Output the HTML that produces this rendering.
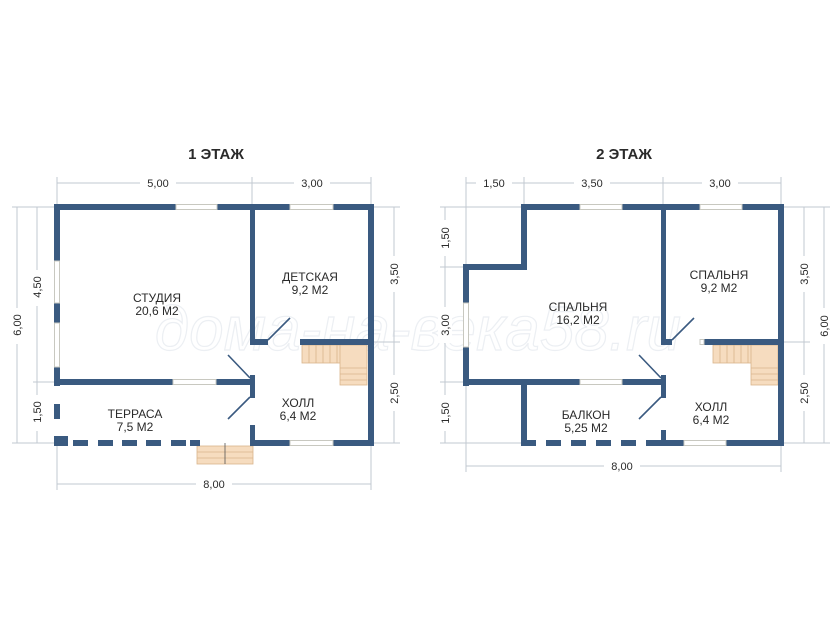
<!DOCTYPE html>
<html><head><meta charset="utf-8"><style>
html,body{margin:0;padding:0;background:#fff;}
svg{display:block}
text{font-family:"Liberation Sans","DejaVu Sans",sans-serif;fill:#2a2a2a}
.d{stroke:#c2c8d0;stroke-width:1;fill:none}
.w{fill:#3a5a80}
.win{fill:#fff;stroke:#c8c8c0;stroke-width:1}
.lbl{font-size:12px;text-anchor:middle}
.dim{font-size:11px;text-anchor:middle}
.st{fill:#f6dcbf;stroke:#d9b58c;stroke-width:0.8}
</style></head><body>
<svg width="840" height="630" viewBox="0 0 840 630" xmlns="http://www.w3.org/2000/svg">
<rect width="840" height="630" fill="#fff"/>
<text x="418" y="350" font-size="62" font-style="italic" text-anchor="middle" stroke="#eceff3" stroke-width="1.2" style="fill:none">дома-на-века58.ru</text>

<!-- ===== PLAN 1 ===== -->
<text x="216" y="159" font-size="15" font-weight="bold" text-anchor="middle">1 ЭТАЖ</text>
<g class="d">
<line x1="57" y1="183" x2="371" y2="183"/>
<line x1="57" y1="177" x2="57" y2="204"/><line x1="252" y1="177" x2="252" y2="204"/><line x1="371" y1="177" x2="371" y2="204"/>
<line x1="57" y1="484" x2="371" y2="484"/>
<line x1="57" y1="446" x2="57" y2="490"/><line x1="371" y1="446" x2="371" y2="490"/>
<line x1="17" y1="207" x2="17" y2="443"/><line x1="37" y1="207" x2="37" y2="443"/>
<line x1="12" y1="207" x2="54" y2="207"/><line x1="12" y1="443" x2="54" y2="443"/><line x1="33" y1="382" x2="54" y2="382"/>
<line x1="394" y1="207" x2="394" y2="443"/>
<line x1="374" y1="207" x2="400" y2="207"/><line x1="374" y1="342" x2="400" y2="342"/><line x1="374" y1="443" x2="400" y2="443"/>
</g>
<g class="dim">
<rect x="140" y="176" width="36" height="14" fill="#fff"/><text x="158" y="187">5,00</text>
<rect x="294" y="176" width="36" height="14" fill="#fff"/><text x="312" y="187">3,00</text>
<rect x="196" y="477" width="36" height="14" fill="#fff"/><text x="214" y="488">8,00</text>
<rect x="10" y="308" width="14" height="36" fill="#fff"/><text transform="translate(21,325) rotate(-90)">6,00</text>
<rect x="30" y="270" width="14" height="36" fill="#fff"/><text transform="translate(41,287) rotate(-90)">4,50</text>
<rect x="30" y="395" width="14" height="36" fill="#fff"/><text transform="translate(41,412) rotate(-90)">1,50</text>
<rect x="387" y="256" width="14" height="36" fill="#fff"/><text transform="translate(398,274) rotate(-90)">3,50</text>
<rect x="387" y="375" width="14" height="36" fill="#fff"/><text transform="translate(398,393) rotate(-90)">2,50</text>
</g>
<g>
<rect class="st" x="302" y="345" width="65" height="18"/>
<rect class="st" x="340" y="345" width="27" height="40"/>
<g stroke="#d9b58c" stroke-width="0.8">
<line x1="309" y1="345" x2="309" y2="363"/><line x1="316" y1="345" x2="316" y2="363"/><line x1="323" y1="345" x2="323" y2="363"/><line x1="330" y1="345" x2="330" y2="363"/><line x1="337" y1="345" x2="337" y2="363"/>
<line x1="340" y1="368" x2="367" y2="368"/><line x1="340" y1="374" x2="367" y2="374"/><line x1="340" y1="380" x2="367" y2="380"/>
</g>
<rect class="st" x="197" y="446" width="56" height="18"/>
<g stroke="#d9b58c" stroke-width="0.8"><line x1="197" y1="452" x2="253" y2="452"/><line x1="197" y1="458" x2="253" y2="458"/><line x1="225" y1="443" x2="225" y2="464" stroke="#555"/></g>
</g>
<g class="w">
<rect x="54" y="204" width="320" height="6"/>
<rect x="54" y="204" width="6" height="182"/>
<rect x="368" y="204" width="6" height="242"/>
<rect x="250" y="440" width="124" height="6"/>
<rect x="54" y="379" width="201" height="6"/>
<rect x="250" y="204" width="5" height="139"/>
<rect x="250" y="339" width="18" height="6"/>
<rect x="300" y="339" width="74" height="6"/>
<rect x="250" y="375" width="5" height="23"/>
<rect x="250" y="425" width="5" height="21"/>
<rect x="54" y="404" width="6" height="15"/>
<rect x="54" y="436" width="14" height="10"/>
<rect x="73" y="440" width="15" height="6"/><rect x="98" y="440" width="15" height="6"/><rect x="122" y="440" width="15" height="6"/><rect x="146" y="440" width="15" height="6"/><rect x="171" y="440" width="15" height="6"/><rect x="190" y="440" width="10" height="6"/>
</g>
<g class="win">
<rect x="176" y="204.5" width="41" height="5"/>
<rect x="290" y="204.5" width="43" height="5"/>
<rect x="54.5" y="261" width="5" height="42"/>
<rect x="54.5" y="323" width="5" height="44"/>
<rect x="173" y="379.5" width="43" height="5"/>
<rect x="290" y="440.5" width="43" height="5"/>
</g>
<g stroke="#3a5a80" stroke-width="1.6"><line x1="268" y1="340" x2="290" y2="318"/><line x1="250" y1="378" x2="228" y2="355"/><line x1="250" y1="397" x2="228" y2="419"/></g>
<g class="lbl">
<text x="157" y="302">СТУДИЯ</text><text x="157" y="315">20,6 М2</text>
<text x="310" y="281">ДЕТСКАЯ</text><text x="310" y="294">9,2 М2</text>
<text x="298" y="407">ХОЛЛ</text><text x="298" y="420">6,4 М2</text>
<text x="135" y="418">ТЕРРАСА</text><text x="135" y="431">7,5 М2</text>
</g>

<!-- ===== PLAN 2 ===== -->
<text x="624" y="159" font-size="15" font-weight="bold" text-anchor="middle">2 ЭТАЖ</text>
<g class="d">
<line x1="466" y1="183" x2="781" y2="183"/>
<line x1="466" y1="177" x2="466" y2="264"/><line x1="524" y1="177" x2="524" y2="204"/><line x1="663" y1="177" x2="663" y2="204"/><line x1="781" y1="177" x2="781" y2="204"/>
<line x1="466" y1="466" x2="781" y2="466"/>
<line x1="466" y1="386" x2="466" y2="472"/><line x1="781" y1="446" x2="781" y2="472"/>
<line x1="445" y1="207" x2="445" y2="443"/>
<line x1="440" y1="207" x2="521" y2="207"/><line x1="440" y1="267" x2="463" y2="267"/><line x1="440" y1="382" x2="463" y2="382"/><line x1="440" y1="443" x2="521" y2="443"/>
<line x1="804" y1="207" x2="804" y2="443"/><line x1="824" y1="207" x2="824" y2="443"/>
<line x1="784" y1="207" x2="830" y2="207"/><line x1="784" y1="342" x2="810" y2="342"/><line x1="784" y1="443" x2="830" y2="443"/>
</g>
<g class="dim">
<rect x="476" y="176" width="36" height="14" fill="#fff"/><text x="494" y="187">1,50</text>
<rect x="574" y="176" width="36" height="14" fill="#fff"/><text x="592" y="187">3,50</text>
<rect x="702" y="176" width="36" height="14" fill="#fff"/><text x="720" y="187">3,00</text>
<rect x="604" y="459" width="36" height="14" fill="#fff"/><text x="622" y="470">8,00</text>
<rect x="438" y="220" width="14" height="36" fill="#fff"/><text transform="translate(449,238) rotate(-90)">1,50</text>
<rect x="438" y="307" width="14" height="36" fill="#fff"/><text transform="translate(449,325) rotate(-90)">3,00</text>
<rect x="438" y="395" width="14" height="36" fill="#fff"/><text transform="translate(449,413) rotate(-90)">1,50</text>
<rect x="797" y="256" width="14" height="36" fill="#fff"/><text transform="translate(808,274) rotate(-90)">3,50</text>
<rect x="797" y="375" width="14" height="36" fill="#fff"/><text transform="translate(808,393) rotate(-90)">2,50</text>
<rect x="817" y="308" width="14" height="36" fill="#fff"/><text transform="translate(828,326) rotate(-90)">6,00</text>
</g>
<g>
<rect class="st" x="713" y="345" width="65" height="18"/>
<rect class="st" x="751" y="345" width="27" height="40"/>
<g stroke="#d9b58c" stroke-width="0.8">
<line x1="720" y1="345" x2="720" y2="363"/><line x1="727" y1="345" x2="727" y2="363"/><line x1="734" y1="345" x2="734" y2="363"/><line x1="741" y1="345" x2="741" y2="363"/><line x1="748" y1="345" x2="748" y2="363"/>
<line x1="751" y1="368" x2="778" y2="368"/><line x1="751" y1="374" x2="778" y2="374"/><line x1="751" y1="380" x2="778" y2="380"/>
</g>
</g>
<g class="w">
<rect x="521" y="204" width="263" height="6"/>
<rect x="521" y="204" width="6" height="66"/>
<rect x="463" y="264" width="64" height="6"/>
<rect x="463" y="264" width="6" height="122"/>
<rect x="463" y="379" width="203" height="6"/>
<rect x="778" y="204" width="6" height="242"/>
<rect x="661" y="204" width="5" height="139"/>
<rect x="661" y="339" width="11" height="6"/>
<rect x="700" y="339" width="84" height="6"/>
<rect x="661" y="375" width="5" height="23"/>
<rect x="661" y="430" width="5" height="16"/>
<rect x="661" y="440" width="123" height="6"/>
<rect x="521" y="385" width="6" height="61"/>
<rect x="521" y="440" width="15" height="6"/><rect x="546" y="440" width="15" height="6"/><rect x="571" y="440" width="15" height="6"/><rect x="596" y="440" width="15" height="6"/><rect x="621" y="440" width="15" height="6"/><rect x="646" y="440" width="15" height="6"/>
</g>
<g class="win">
<rect x="580" y="204.5" width="42" height="5"/>
<rect x="700" y="204.5" width="42" height="5"/>
<rect x="463.5" y="303" width="5" height="44"/>
<rect x="580" y="379.5" width="42" height="5"/>
<rect x="684" y="440.5" width="42" height="5"/>
<rect x="700" y="339.5" width="4" height="5"/>
</g>
<g stroke="#3a5a80" stroke-width="1.6"><line x1="672" y1="340" x2="694" y2="318"/><line x1="661" y1="378" x2="639" y2="355"/><line x1="661" y1="397" x2="639" y2="419"/></g>
<g class="lbl">
<text x="578" y="311">СПАЛЬНЯ</text><text x="578" y="324">16,2 М2</text>
<text x="719" y="279">СПАЛЬНЯ</text><text x="719" y="292">9,2 М2</text>
<text x="711" y="411">ХОЛЛ</text><text x="711" y="424">6,4 М2</text>
<text x="586" y="419">БАЛКОН</text><text x="586" y="432">5,25 М2</text>
</g>
</svg>
</body></html>
